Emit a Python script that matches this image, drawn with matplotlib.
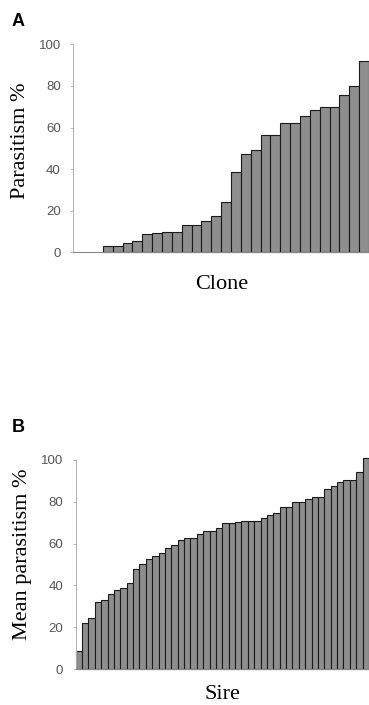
import matplotlib
matplotlib.use('Agg')
import matplotlib.pyplot as plt
import numpy as np

# panel A: parasitism % per clone (sorted)
clone_vals = [0, 0, 0, 3, 3, 4.3, 5.6, 8.7, 9.5, 10, 10, 13, 13, 15, 17.5, 24,
              38.6, 47.4, 49.2, 56.3, 56.3, 62.3, 62.3, 65.5, 68.3, 70, 70,
              75.6, 80, 92]
# panel B: mean parasitism % per sire (sorted)
sire_vals = [8.6, 21.9, 24.4, 32, 33, 35.7, 37.6, 38.9, 41.3, 47.8, 50.2, 52.8,
             54.1, 55.3, 57.9, 59.2, 61.7, 62.8, 62.8, 64.8, 66, 66, 67.3, 69.7,
             69.7, 70.3, 71, 71, 71, 72.2, 73.5, 74.8, 77.4, 77.4, 79.7, 79.7,
             81.2, 82.3, 82.3, 86.1, 87.4, 89.3, 90.6, 90.6, 94.3, 100.8]
yticks = [0, 20, 40, 60, 80, 100]

W, H = 369, 705
fig = plt.figure(figsize=(W / 100, H / 100), dpi=100)

bar_face = '#8e8e8e'
bar_edge = '#1a1a1a'
tick_col = '#555555'


def style(ax, n):
    ax.set_xlim(-0.5, n - 0.5)
    ax.set_ylim(0, 100)
    ax.set_yticks(yticks)
    ax.set_xticks([])
    ax.spines['top'].set_visible(False)
    ax.spines['right'].set_visible(False)
    ax.spines['left'].set_color('#b0b0b0')
    ax.spines['bottom'].set_color('#888888')
    ax.spines['left'].set_linewidth(0.7)
    ax.spines['bottom'].set_linewidth(0.8)
    ax.tick_params(axis='y', length=2, width=0.6, color='#b0b0b0', pad=7,
                   labelsize=9.5, labelcolor=tick_col)
    for t in ax.get_yticklabels():
        t.set_family('Liberation Sans')
    ax.patch.set_alpha(0)


def draw_bars(ax, vals):
    lw = [0.8 if v > 0 else 0 for v in vals]
    ax.bar(np.arange(len(vals)), vals, width=1.0, facecolor=bar_face,
           edgecolor=bar_edge, linewidth=lw, clip_on=False)


# panel A
axA = fig.add_axes([73.3 / W, 1 - 252.3 / H, (W - 73.3) / W, 208 / H])
draw_bars(axA, clone_vals)
style(axA, len(clone_vals))
axA.set_ylabel('Parasitism %', family='Liberation Serif', fontsize=16,
               va='center', ha='center')
axA.yaxis.set_label_coords(-0.18, 0.535)
axA.set_xlabel('Clone', family='Liberation Serif', fontsize=16,
               va='center', ha='center')
axA.xaxis.set_label_coords(0.503, -0.157)

# panel B
axB = fig.add_axes([75.7 / W, 1 - 669 / H, (W - 75.7) / W, 209 / H])
draw_bars(axB, sire_vals)
style(axB, len(sire_vals))
axB.set_ylabel('Mean parasitism %', family='Liberation Serif', fontsize=16,
               va='center', ha='center')
axB.yaxis.set_label_coords(-0.181, 0.55)
axB.set_xlabel('Sire', family='Liberation Serif', fontsize=16,
               va='center', ha='center')
axB.xaxis.set_label_coords(0.5, -0.124)

fig.text(12 / W, 1 - 21 / H, 'A', family='Liberation Sans', fontweight='bold',
         fontsize=13, ha='left', va='center')
fig.text(12 / W, 1 - 428 / H, 'B', family='Liberation Sans', fontweight='bold',
         fontsize=13, ha='left', va='center')

fig.savefig('out.png', dpi=100)
